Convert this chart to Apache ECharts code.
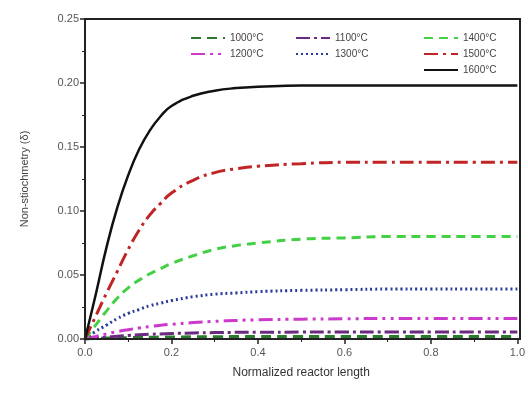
<!DOCTYPE html>
<html>
<head>
<meta charset="utf-8">
<script src="https://cdn.jsdelivr.net/npm/echarts@6/dist/echarts.min.js"></script>
<style>
  html, body { margin: 0; padding: 0; background: #fff; }
  #chart { width: 528px; height: 394px; }
</style>
</head>
<body>
<div id="chart"></div>
<script>
// normalized reactor length sample points
const xs = [0, 0.025, 0.05, 0.075, 0.1, 0.125, 0.15, 0.175, 0.2, 0.25, 0.3, 0.35, 0.4, 0.5, 0.6, 0.7, 0.8, 0.9, 1.0];

// non-stoichiometry
const d1000 = [0, 0.0004, 0.0007, 0.0009, 0.0011, 0.0013, 0.0014, 0.0015, 0.0016, 0.0017, 0.0018, 0.0019, 0.002, 0.002, 0.002, 0.002, 0.002, 0.002, 0.002];
const d1100 = [0, 0.0008, 0.0015, 0.0022, 0.0028, 0.0033, 0.0037, 0.004, 0.0043, 0.0047, 0.005, 0.0052, 0.0053, 0.0054, 0.0055, 0.0055, 0.0055, 0.0055, 0.0055];
const d1200 = [0, 0.002, 0.004, 0.0058, 0.0073, 0.0086, 0.0097, 0.0107, 0.0115, 0.0128, 0.0138, 0.0145, 0.015, 0.0155, 0.0158, 0.016, 0.016, 0.016, 0.016];
const d1300 = [0, 0.006, 0.011, 0.016, 0.02, 0.023, 0.026, 0.028, 0.030, 0.033, 0.035, 0.036, 0.037, 0.038, 0.0385, 0.039, 0.039, 0.039, 0.039];
const d1400 = [0, 0.011, 0.022, 0.032, 0.040, 0.046, 0.051, 0.055, 0.059, 0.065, 0.070, 0.073, 0.075, 0.078, 0.079, 0.080, 0.080, 0.080, 0.080];
const d1500 = [0, 0.018, 0.036, 0.053, 0.070, 0.085, 0.097, 0.106, 0.114, 0.124, 0.130, 0.133, 0.135, 0.137, 0.138, 0.138, 0.138, 0.138, 0.138];
const d1600 = [0, 0.035, 0.072, 0.103, 0.128, 0.148, 0.163, 0.174, 0.182, 0.190, 0.194, 0.196, 0.197, 0.198, 0.198, 0.198, 0.198, 0.198, 0.198];

const xTicks = [0, 0.2, 0.4, 0.6, 0.8, 1.0];

const FONT = 'Arial, "Liberation Sans", sans-serif';

const seriesDefs = [
  { name: '1000°C', data: d1000, color: '#2a7a2a', type: [10, 6] },
  { name: '1100°C', data: d1100, color: '#6a2a80', type: [14, 4, 3, 4] },
  { name: '1200°C', data: d1200, color: '#cc3acc', type: [14, 5, 3, 5, 3, 5] },
  { name: '1300°C', data: d1300, color: '#2a3a9a', type: [2, 3] },
  { name: '1400°C', data: d1400, color: '#44d044', type: [9, 6] },
  { name: '1500°C', data: d1500, color: '#c02424', type: [14, 5, 3, 5] },
  { name: '1600°C', data: d1600, color: '#111111', type: 'solid' }
];

const chart = echarts.init(document.getElementById('chart'));

const legendBase = {
  orient: 'vertical',
  itemWidth: 34,
  itemHeight: 10,
  itemGap: 6,
  itemStyle: { opacity: 0 },
  textStyle: { fontFamily: FONT, fontSize: 10, color: '#444' }
};

const option = {
  backgroundColor: '#fff',
  animation: false,
  grid: { left: 85, right: 8, top: 19, bottom: 55 },
  legend: [
    Object.assign({}, legendBase, { left: 185, top: 28, data: ['1000°C', '1200°C'] }),
    Object.assign({}, legendBase, { left: 290, top: 28, data: ['1100°C', '1300°C'] }),
    Object.assign({}, legendBase, { left: 418, top: 28, data: ['1400°C', '1500°C', '1600°C'] })
  ],
  xAxis: {
    type: 'value',
    min: 0,
    max: 1,
    interval: 0.2,
    name: 'Normalized reactor length',
    nameLocation: 'middle',
    nameGap: 28,
    nameTextStyle: { fontFamily: FONT, fontSize: 12, color: '#333' },
    axisLine: { show: true, lineStyle: { color: '#222', width: 2 } },
    axisTick: { show: true, length: 5, lineStyle: { color: '#222', width: 1.5 } },
    minorTick: { show: true, splitNumber: 2, length: 3, lineStyle: { color: '#222' } },
    splitLine: { show: false },
    axisLabel: {
      fontFamily: FONT, fontSize: 11, color: '#555', margin: 8,
      formatter: v => xTicks.includes(+v.toFixed(1)) ? v.toFixed(1) : ''
    }
  },
  yAxis: {
    type: 'value',
    min: 0,
    max: 0.25,
    interval: 0.05,
    name: 'Non-stiochmetry (δ)',
    nameLocation: 'middle',
    nameGap: 55,
    nameTextStyle: { fontFamily: FONT, fontSize: 11, color: '#444' },
    axisLine: { show: true, lineStyle: { color: '#222', width: 2 } },
    axisTick: { show: true, length: 5, lineStyle: { color: '#222', width: 1.5 } },
    minorTick: { show: true, splitNumber: 2, length: 3, lineStyle: { color: '#222' } },
    splitLine: { show: false },
    axisLabel: {
      fontFamily: FONT, fontSize: 11, color: '#555', margin: 6,
      formatter: v => v.toFixed(2)
    }
  },
  graphic: [
    {
      type: 'rect',
      shape: { x: 85, y: 19, width: 435, height: 320 },
      style: { fill: 'none', stroke: '#222', lineWidth: 2 },
      silent: true,
      z: 10
    }
  ],
  series: seriesDefs.map(s => ({
    name: s.name,
    type: 'line',
    showSymbol: false,
    symbol: 'none',
    smooth: true,
    data: xs.map((x, i) => [x, s.data[i]]),
    lineStyle: { color: s.color, width: s.type === 'solid' ? 2.5 : 3, type: s.type },
    itemStyle: { color: s.color }
  }))
};

chart.setOption(option);
</script>
</body>
</html>
